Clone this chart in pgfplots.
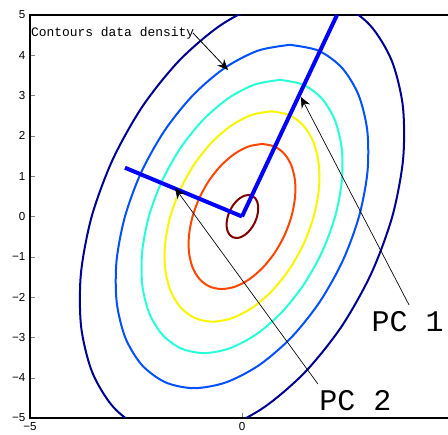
\documentclass[border=0pt]{standalone}
\usepackage{pgfplots}
\pgfplotsset{compat=1.18}
\usepackage{fontspec}
\setmainfont{Liberation Sans}
\newfontfamily\cour{Liberation Mono}
\usetikzlibrary{arrows.meta}
\definecolor{cnavy}{RGB}{0,0,145}
\definecolor{cblue}{RGB}{0,80,255}
\definecolor{ccyan}{RGB}{40,255,215}
\definecolor{cyel}{RGB}{250,245,0}
\definecolor{corange}{RGB}{255,70,0}
\definecolor{cdred}{RGB}{128,0,0}
\begin{document}
\begin{tikzpicture}
\useasboundingbox (-22.5pt,-12pt) rectangle (313.5pt,313.5pt);
\begin{axis}[
  scale only axis, width=318pt, height=302.25pt,
  xmin=-5, xmax=5, ymin=-5, ymax=5,
  xtick={-5,0,5}, xticklabels={−5,0,{}},
  ytick={-5,-4,-3,-2,-1,0,1,2,3,4,5},
  yticklabels={−5,−4,−3,−2,−1,0,1,2,3,4,5},
  tick align=inside, tick pos=left,
  major tick length=3.5pt,
  tick label style={font=\fontsize{8.7}{10}\selectfont},
  xticklabel style={yshift=0.5pt},
  /pgf/number format/assume math mode=true,
  axis line style={line width=0.8pt},
  clip=true,
]
% dark navy
\addplot[cnavy, line width=1.5pt, smooth] coordinates {
(1.450,5.470)(2.318,5.283)(3.028,4.737)(3.531,3.868)(3.794,2.735)(3.799,1.416)(3.545,0)(3.048,-1.416)(2.345,-2.735)(1.481,-3.868)(0.517,-4.737)(-0.483,-5.283)(-1.450,-5.470)(-2.318,-5.283)(-3.028,-4.737)(-3.531,-3.868)(-3.794,-2.735)(-3.799,-1.416)(-3.545,0)(-3.048,1.416)(-2.345,2.735)(-1.481,3.868)(-0.517,4.737)(0.483,5.283)(1.450,5.470)};
% blue
\addplot[cblue, line width=1.5pt, smooth] coordinates {
(1.129,4.260)(1.805,4.115)(2.358,3.689)(2.750,3.012)(2.955,2.130)(2.959,1.103)(2.760,0)(2.374,-1.103)(1.826,-2.130)(1.154,-3.012)(0.403,-3.689)(-0.376,-4.115)(-1.129,-4.260)(-1.805,-4.115)(-2.358,-3.689)(-2.750,-3.012)(-2.955,-2.130)(-2.959,-1.103)(-2.760,0)(-2.374,1.103)(-1.826,2.130)(-1.154,3.012)(-0.403,3.689)(0.376,4.115)(1.129,4.260)};
% cyan
\addplot[ccyan, line width=1.5pt, smooth] coordinates {
(0.898,3.390)(1.436,3.274)(1.876,2.936)(2.189,2.397)(2.352,1.695)(2.354,0.877)(2.197,0)(1.889,-0.877)(1.453,-1.695)(0.918,-2.397)(0.320,-2.936)(-0.299,-3.274)(-0.898,-3.390)(-1.436,-3.274)(-1.876,-2.936)(-2.189,-2.397)(-2.352,-1.695)(-2.354,-0.877)(-2.197,0)(-1.889,0.877)(-1.453,1.695)(-0.918,2.397)(-0.320,2.936)(0.299,3.274)(0.898,3.390)};
% yellow
\addplot[cyel, line width=1.5pt, smooth] coordinates {
(0.692,2.610)(1.106,2.521)(1.445,2.260)(1.685,1.846)(1.811,1.305)(1.813,0.675)(1.691,0)(1.455,-0.675)(1.119,-1.305)(0.707,-1.846)(0.247,-2.260)(-0.230,-2.521)(-0.692,-2.610)(-1.106,-2.521)(-1.445,-2.260)(-1.685,-1.846)(-1.811,-1.305)(-1.813,-0.675)(-1.691,0)(-1.455,0.675)(-1.119,1.305)(-0.707,1.846)(-0.247,2.260)(0.230,2.521)(0.692,2.610)};
% orange
\addplot[corange, line width=1.5pt, smooth] coordinates {
(0.477,1.800)(0.763,1.739)(0.996,1.559)(1.162,1.273)(1.249,0.900)(1.250,0.466)(1.166,0)(1.003,-0.466)(0.772,-0.900)(0.487,-1.273)(0.170,-1.559)(-0.159,-1.739)(-0.477,-1.800)(-0.763,-1.739)(-0.996,-1.559)(-1.162,-1.273)(-1.249,-0.900)(-1.250,-0.466)(-1.166,0)(-1.003,0.466)(-0.772,0.900)(-0.487,1.273)(-0.170,1.559)(0.159,1.739)(0.477,1.800)};
% dark red
\addplot[cdred, line width=1.5pt, smooth] coordinates {
(0.151,0.533)(0.236,0.515)(0.305,0.462)(0.354,0.377)(0.380,0.267)(0.380,0.138)(0.355,0)(0.307,-0.138)(0.238,-0.267)(0.154,-0.377)(0.060,-0.462)(-0.037,-0.515)(-0.131,-0.533)(-0.216,-0.515)(-0.285,-0.462)(-0.334,-0.377)(-0.360,-0.267)(-0.360,-0.138)(-0.335,0)(-0.287,0.138)(-0.218,0.267)(-0.134,0.377)(-0.040,0.462)(0.057,0.515)(0.151,0.533)};
% principal components
\addplot[blue, line width=3pt] coordinates {(0,0)(2.24,5.0)};
\addplot[blue, line width=3pt] coordinates {(0,0)(-2.76,1.21)};
% annotations
\draw[black, line width=0.6pt, -{Stealth[length=8pt,width=7pt]}] (axis cs:-1.156,4.553) -- (axis cs:-0.33,3.635);
\draw[black, line width=0.5pt, -{Stealth[length=8pt,width=7pt]}] (axis cs:3.94,-2.196) -- (axis cs:1.39,2.965);
\draw[black, line width=0.5pt, -{Stealth[length=8pt,width=7pt]}] (axis cs:1.79,-4.156) -- (axis cs:-1.58,0.707);
\node[anchor=west, inner sep=0pt, font=\cour\fontsize{9.7}{11}\selectfont] at (axis cs:-4.98,4.55) {Contours data density};
\node[anchor=west, inner sep=0pt, font=\cour\fontsize{22.5}{26}\selectfont] at (axis cs:3.05,-2.62) {PC 1};
\node[anchor=west, inner sep=0pt, font=\cour\fontsize{22.5}{26}\selectfont] at (axis cs:1.82,-4.58) {PC 2};
\end{axis}
\end{tikzpicture}
\end{document}
